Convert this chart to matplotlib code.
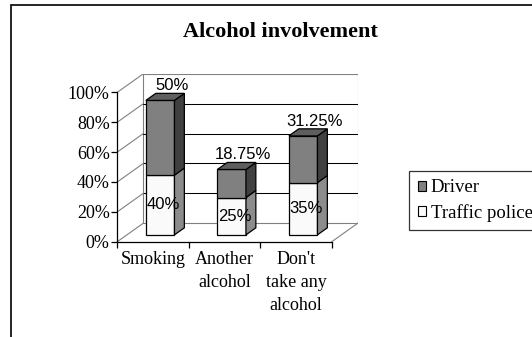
import matplotlib
matplotlib.use('Agg')
import matplotlib.pyplot as plt
from matplotlib.patches import Polygon, Rectangle, Patch
import numpy as np

# chart data
categories = ['Smoking', 'Another\nalcohol', "Don't\ntake any\nalcohol"]
series_names = ['Driver', 'Traffic police']
traffic_police = [40, 25, 35]
driver = [50, 18.75, 31.25]
y_ticks = [0, 20, 40, 60, 80, 100]
y_tick_labels = ['0%', '20%', '40%', '60%', '80%', '100%']

# styling
W, H = 532, 337
serif = 'Liberation Serif'
sans = 'Liberation Sans'
wall_color = '#808080'
driver_faces = ('#808080', '#5e5e5e', '#404040')   # front, top, side
police_faces = ('#fafafa', '#d0d0d0', '#8c8c8c')

# oblique depth of the plot box (data units) and where bars sit in it
depth_x = 0.364
depth_y = 12.4
bar_front, bar_back = 0.37, 0.75
bar_width = 0.40
bar_left = 0.265

fig = plt.figure(figsize=(W / 100, H / 100), dpi=100)
ax = fig.add_axes([117.3 / W, 95.3 / H, 240.5 / W, 167.9 / H])
ax.set_xlim(0, 3 + depth_x)
ax.set_ylim(0, 100 + depth_y)
ax.patch.set_visible(False)

# walls: back wall, grid lines, side wall and floor diagonals
ax.add_patch(Rectangle((depth_x, depth_y), 3, 100, facecolor='white',
                       edgecolor=wall_color, lw=0.8, zorder=1))
for t in y_ticks:
    if 0 < t < 100:
        ax.plot([depth_x, 3 + depth_x], [t + depth_y, t + depth_y],
                color='black', lw=0.75, zorder=1.5)
    ax.plot([0, depth_x], [t, t + depth_y], color=wall_color, lw=0.8, zorder=1.5)
ax.plot([3, 3 + depth_x], [0, depth_y], color=wall_color, lw=0.8, zorder=1.5)

ox0, oy0 = bar_front * depth_x, bar_front * depth_y
ox1, oy1 = bar_back * depth_x, bar_back * depth_y


def box(x0, y0, y1, faces, top=True):
    x1 = x0 + bar_width
    front = Polygon([(x0 + ox0, y0 + oy0), (x1 + ox0, y0 + oy0),
                     (x1 + ox0, y1 + oy0), (x0 + ox0, y1 + oy0)])
    side = Polygon([(x1 + ox0, y0 + oy0), (x1 + ox1, y0 + oy1),
                    (x1 + ox1, y1 + oy1), (x1 + ox0, y1 + oy0)])
    parts = [(front, faces[0]), (side, faces[2])]
    if top:
        cap = Polygon([(x0 + ox0, y1 + oy0), (x1 + ox0, y1 + oy0),
                       (x1 + ox1, y1 + oy1), (x0 + ox1, y1 + oy1)])
        parts.append((cap, faces[1]))
    for p, c in parts:
        p.set_facecolor(c)
        p.set_edgecolor('black')
        p.set_linewidth(0.9)
        p.set_zorder(3)
        ax.add_patch(p)


for i in range(len(categories)):
    x0 = i + bar_left
    p, d = traffic_police[i], driver[i]
    box(x0, 0, p, police_faces, top=False)
    box(x0, p, p + d, driver_faces)
    cx = x0 + bar_width / 2 + ox0
    ax.text(cx + 0.04, p / 2 + oy0, '%g%%' % p,
            family=sans, fontsize=12, ha='center', va='center', zorder=5)
    ax.text(cx + 0.16, p + d + oy1 + 5, '%g%%' % d,
            family=sans, fontsize=12, ha='center', va='center', zorder=5)

# axes lines and labels
for s in ['top', 'right']:
    ax.spines[s].set_visible(False)
ax.spines['left'].set_bounds(0, 100)
ax.spines['bottom'].set_bounds(0, 3)
for s in ['left', 'bottom']:
    ax.spines[s].set_linewidth(0.9)
    ax.spines[s].set_zorder(4)
ax.set_yticks(y_ticks)
ax.set_yticklabels(y_tick_labels, family=serif, fontsize=13)
ax.tick_params(axis='y', direction='out', length=4, width=0.9, pad=1.5)
ax.set_xticks([0, 1, 2, 3])
ax.set_xticklabels([])
ax.set_xticks(np.arange(len(categories)) + 0.5, minor=True)
ax.set_xticklabels(categories, minor=True, family=serif, fontsize=13,
                   linespacing=1.45, va='top')
ax.tick_params(axis='x', which='major', direction='out', length=4, width=0.9)
ax.tick_params(axis='x', which='minor', length=0, pad=7)

fig.text(280 / W, 1 - 31.7 / H, 'Alcohol involvement', family=serif,
         fontsize=16, fontweight='bold', ha='center', va='center')

handles = [Patch(facecolor=driver_faces[0], edgecolor='black', lw=0.8),
           Patch(facecolor=police_faces[0], edgecolor='black', lw=0.8)]
leg = fig.legend(handles, series_names, loc='upper left',
                 bbox_to_anchor=(409.3 / W, 1 - 171 / H),
                 prop={'family': serif, 'size': 13.5}, frameon=True,
                 fancybox=False, handlelength=0.45, handleheight=0.45,
                 handletextpad=0.25, labelspacing=0.4, borderpad=0.45,
                 borderaxespad=0)
leg.get_frame().set_edgecolor('black')
leg.get_frame().set_linewidth(0.9)

# chart area border (left and top edges visible)
fig.add_artist(Rectangle((11 / W, -0.1), 1.2, 1.1 - 5 / H,
                         transform=fig.transFigure, fill=False,
                         edgecolor='black', lw=1.2))

fig.savefig('out.png', dpi=100)
